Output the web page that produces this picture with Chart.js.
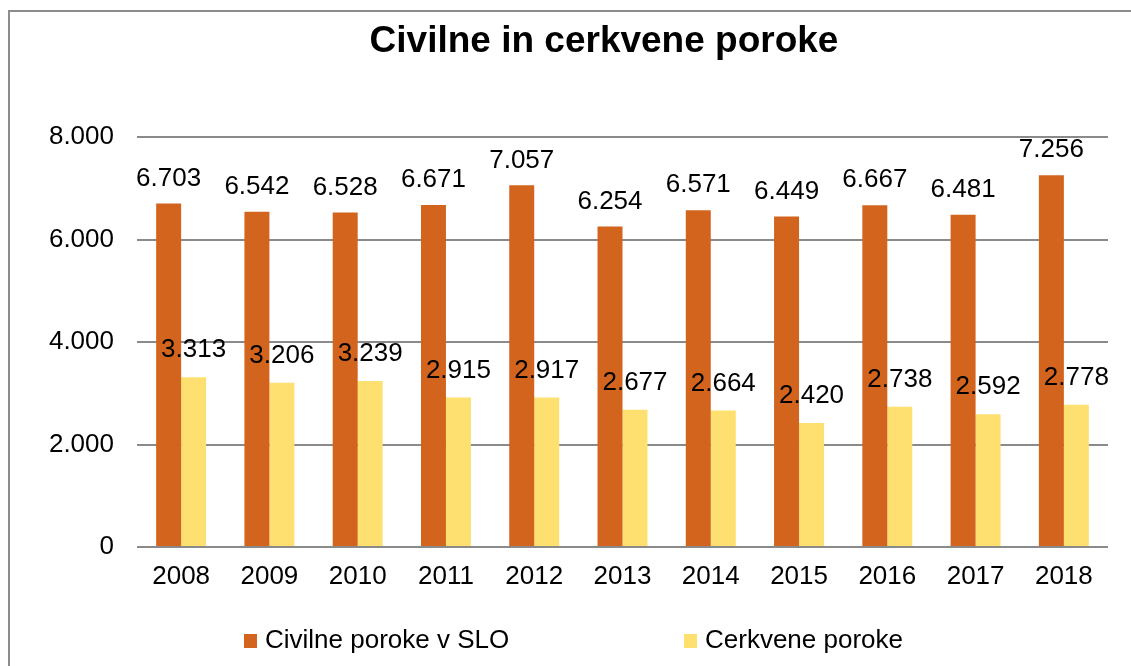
<!DOCTYPE html>
<html>
<head>
<meta charset="utf-8">
<script src="https://cdn.jsdelivr.net/npm/chart.js@4"></script>
<style>
  body { margin: 0; background: #fff; overflow: hidden; }
  #frame {
    position: absolute; left: 8px; top: 10px;
    width: 1200px; height: 720px;
    border: 2px solid #8c8c8c;
  }
</style>
</head>
<body>
<div id="frame"><canvas id="chart"></canvas></div>
<script>
const years = ['2008', '2009', '2010', '2011', '2012', '2013', '2014', '2015', '2016', '2017', '2018'];
const civilne = [6703, 6542, 6528, 6671, 7057, 6254, 6571, 6449, 6667, 6481, 7256];
const cerkvene = [3313, 3206, 3239, 2915, 2917, 2677, 2664, 2420, 2738, 2592, 2778];
const seriesNames = ['Civilne poroke v SLO', 'Cerkvene poroke'];
const title = 'Civilne in cerkvene poroke';
const yTicks = [0, 2000, 4000, 6000, 8000];

const fmt = (v) => String(v).replace(/\B(?=(\d{3})+(?!\d))/g, '.');

Chart.defaults.font.family = '"Liberation Sans", Arial, sans-serif';
Chart.defaults.color = '#000';

// value labels above each bar
const barLabels = {
	id: 'barLabels',
	afterDatasetsDraw(chart) {
		const ctx = chart.ctx;
		ctx.save();
		ctx.font = '26px "Liberation Sans", Arial, sans-serif';
		ctx.fillStyle = '#000';
		ctx.textAlign = 'center';
		ctx.textBaseline = 'middle';
		chart.data.datasets.forEach((ds, i) => {
			const off = i === 0 ? 25 : 27;
			chart.getDatasetMeta(i).data.forEach((bar, j) => {
				ctx.fillText(fmt(ds.data[j]), bar.x, bar.y - off);
			});
		});
		ctx.restore();
	},
};

// legend at the bottom, two items spread apart
const bottomLegend = {
	id: 'bottomLegend',
	afterDraw(chart) {
		const ctx = chart.ctx;
		const xs = [234, 674];
		const base = 636;
		ctx.save();
		ctx.font = '26px "Liberation Sans", Arial, sans-serif';
		ctx.textBaseline = 'alphabetic';
		ctx.textAlign = 'left';
		chart.data.datasets.forEach((ds, i) => {
			ctx.fillStyle = ds.backgroundColor;
			ctx.fillRect(xs[i], base - 14, 13, 14);
			ctx.fillStyle = '#000';
			ctx.fillText(ds.label, xs[i] + 21, base);
		});
		ctx.restore();
	},
};

new Chart(document.getElementById('chart'), {
	type: 'bar',
	data: {
		labels: years,
		datasets: [
			{ label: seriesNames[0], data: civilne, backgroundColor: '#D2641E' },
			{ label: seriesNames[1], data: cerkvene, backgroundColor: '#FDE070' },
		],
	},
	options: {
		responsive: true,
		maintainAspectRatio: false,
		animation: false,
		categoryPercentage: 0.566,
		barPercentage: 1,
		layout: { padding: { left: 39, right: 51, top: 0, bottom: 125 } },
		plugins: {
			legend: { display: false },
			tooltip: { enabled: false },
			title: {
				display: true,
				text: title,
				font: { size: 37, weight: 'bold' },
				padding: { top: 8, bottom: 72.6 },
			},
		},
		scales: {
			x: {
				grid: { display: false, drawTicks: false },
				border: { display: false },
				ticks: { font: { size: 26 }, padding: 14 },
				afterFit: (s) => { s.height = 60; },
			},
			y: {
				min: 0,
				max: 8000,
				afterBuildTicks: (s) => { s.ticks = yTicks.map((v) => ({ value: v })); },
				grid: { color: '#8a8a8a', lineWidth: 2, drawTicks: false },
				border: { display: false },
				ticks: { font: { size: 26 }, padding: 23, callback: (v) => fmt(v) },
				afterFit: (s) => { s.width = 88; },
			},
			yr: {
				position: 'right',
				grid: { display: false, drawTicks: false },
				border: { display: false },
				ticks: { display: false },
				afterFit: (s) => { s.width = 51; },
			},
		},
	},
	plugins: [barLabels, bottomLegend],
});
</script>
</body>
</html>
